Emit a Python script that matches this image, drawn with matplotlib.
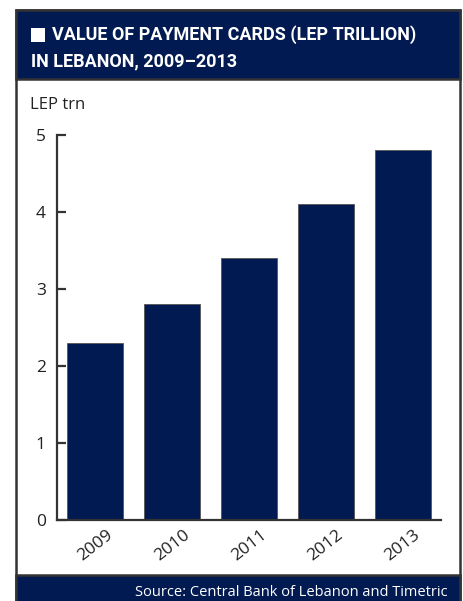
import matplotlib
matplotlib.use("Agg")
import matplotlib.pyplot as plt
from matplotlib.patches import Rectangle

# data
years = ["2009", "2010", "2011", "2012", "2013"]
values = [2.3, 2.8, 3.4, 4.1, 4.8]
yticks = [0, 1, 2, 3, 4, 5]

navy = "#021a52"
frame = "#333333"

W, H = 464, 601
fig = plt.figure(figsize=(W / 100, H / 100), dpi=100)
fig.patch.set_facecolor("white")

def px(x0, y0, x1, y1):
    # pixel box (top-left origin) -> figure fraction
    return x0 / W, 1 - y1 / H, (x1 - x0) / W, (y1 - y0) / H

def box(x0, y0, x1, y1, fc, ec="none", lw=0, z=-5):
    x, y, w, h = px(x0, y0, x1, y1)
    fig.patches.append(Rectangle((x, y), w, h, transform=fig.transFigure,
                                 facecolor=fc, edgecolor=ec, lw=lw, zorder=z))

# outer frame + header / footer bands
box(16, 10, 460, 601, "white", frame, 1.8, z=-6)
box(16, 10, 460, 79, navy, frame, 1.8)
box(16, 575, 460, 603, navy, frame, 1.8)
box(31, 28, 45, 42, "white", z=-4)  # white square in title

tfont = ["Liberation Sans Narrow", "Roboto", "DejaVu Sans"]
fig.text(52 / W, 1 - 35 / H, "VALUE OF PAYMENT CARDS (LEP TRILLION)",
         color="white", fontsize=13.0, fontweight="bold", family=tfont, va="center")
fig.text(31 / W, 1 - 61 / H, "IN LEBANON, 2009\u20132013",
         color="white", fontsize=13.0, fontweight="bold", family=tfont, va="center")
fig.text(30 / W, 1 - 105 / H, "LEP trn", fontsize=12, color="#222222",
         family=["Open Sans", "DejaVu Sans"], va="center")
fig.text(448 / W, 1 - 593 / H, "Source: Central Bank of Lebanon and Timetric",
         color="white", fontsize=10.5, family=["Open Sans", "DejaVu Sans"],
         ha="right", va="center")

ax = fig.add_axes(px(57, 135, 441, 520))
ax.bar(range(len(years)), values, width=0.73, color=navy,
       edgecolor="#555555", linewidth=0.6)
ax.set_xlim(-0.5, len(years) - 0.5)
ax.set_ylim(0, 5)
ax.set_yticks(yticks)
ax.set_xticks(range(len(years)))
ax.set_xticklabels(years, rotation=38, ha="center", va="top")
for s in ["top", "right"]:
    ax.spines[s].set_visible(False)
for s in ["left", "bottom"]:
    ax.spines[s].set_color(frame)
    ax.spines[s].set_linewidth(1.6)
ax.tick_params(axis="y", direction="in", length=6.5, width=1.6, color=frame,
               labelsize=12.5, pad=8, labelcolor="#222222")
ax.tick_params(axis="x", length=0, labelsize=12.5, pad=5, labelcolor="#222222")
for lab in ax.get_xticklabels() + ax.get_yticklabels():
    lab.set_family(["Open Sans", "DejaVu Sans"])

fig.savefig("out.png", dpi=100)
